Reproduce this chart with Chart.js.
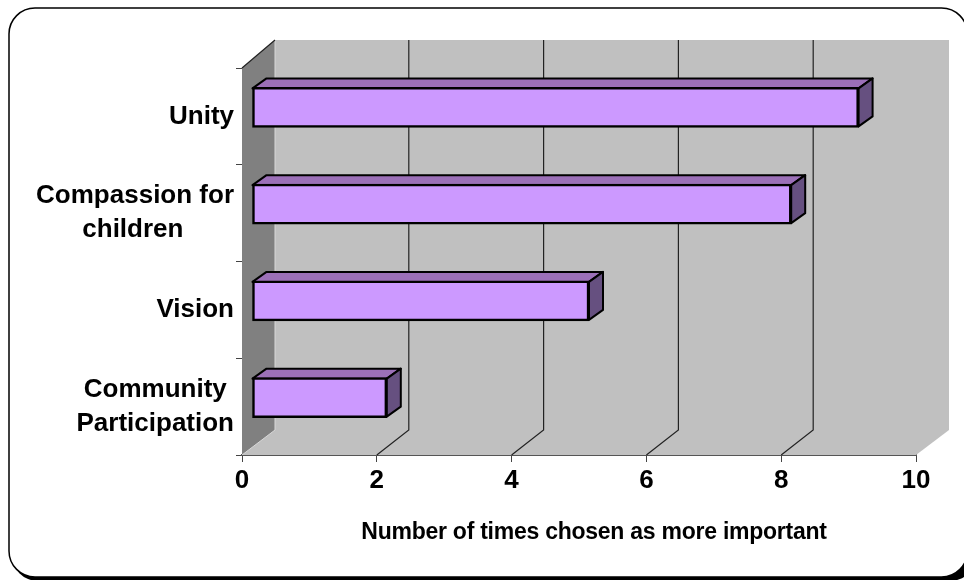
<!DOCTYPE html>
<html>
<head>
<meta charset="utf-8">
<style>
  html, body { margin: 0; padding: 0; background: #fff; }
  #wrap { width: 964px; height: 580px; overflow: hidden; }
</style>
<script src="https://cdn.jsdelivr.net/npm/chart.js@4/dist/chart.umd.min.js"></script>
</head>
<body>
<div id="wrap"><canvas id="chart" width="964" height="580"></canvas></div>
<script>
const categories = ['Unity', ['Compassion for', 'children'], 'Vision', ['Community', 'Participation']];
const timesChosen = [9, 8, 5, 2];
const xTicks = [0, 2, 4, 6, 8, 10];
const axisTitle = 'Number of times chosen as more important';

const fontFamily = '"Liberation Sans", Arial, sans-serif';
const faceColor = '#CC99FF';
const topColor = '#9C70B8';
const sideColor = '#665080';

// depth of the box, and where the bars sit inside it
const wallDx = 33, wallDy = 25;
const barDx = 10, barDy = 9;
const barDepthX = 14, barDepthY = 10;

function poly(ctx, pts, fill, stroke, width) {
    ctx.beginPath();
    pts.forEach((p, i) => i ? ctx.lineTo(p[0], p[1]) : ctx.moveTo(p[0], p[1]));
    ctx.closePath();
    if (fill) { ctx.fillStyle = fill; ctx.fill(); }
    if (stroke) { ctx.strokeStyle = stroke; ctx.lineWidth = width; ctx.stroke(); }
}

// two line labels are centred on each other, the library only right aligns them
function centreLines(lines, ctx) {
    if (!Array.isArray(lines)) return lines;
    ctx.save();
    ctx.font = 'bold 26px ' + fontFamily;
    const widest = Math.max(...lines.map(l => ctx.measureText(l).width));
    const space = ctx.measureText('\u00a0').width;
    const padded = lines.map(l => l + '\u00a0'.repeat(Math.round((widest - ctx.measureText(l).width) / 2 / space)));
    ctx.restore();
    return padded;
}

// rounded card behind everything
const cardPlugin = {
    id: 'card',
    beforeDraw(chart) {
        const ctx = chart.ctx;
        ctx.save();
        ctx.fillStyle = '#000';
        ctx.beginPath();
        ctx.roundRect(12, 300, 964, 281, 26);
        ctx.fill();
        ctx.fillStyle = '#fff';
        ctx.strokeStyle = '#000';
        ctx.lineWidth = 1.5;
        ctx.beginPath();
        ctx.roundRect(9, 8, 958.5, 569, 26);
        ctx.fill();
        ctx.stroke();
        ctx.restore();
    }
};

// side wall, back wall and floor with the value grid lines
const wallPlugin = {
    id: 'walls',
    beforeDatasetsDraw(chart) {
        const ctx = chart.ctx;
        const { left, right, top, bottom } = chart.chartArea;
        const xScale = chart.scales.x;
        ctx.save();
        poly(ctx, [[left + wallDx, top - wallDy - 3], [right + wallDx, top - wallDy - 3],
            [right + wallDx, bottom - wallDy], [right, bottom], [left, bottom]], '#C0C0C0');
        poly(ctx, [[left, top], [left + wallDx, top - wallDy - 3],
            [left + wallDx, bottom - wallDy], [left, bottom]], '#808080');
        ctx.strokeStyle = '#D8D8D8';
        ctx.lineWidth = 1;
        ctx.beginPath();
        ctx.moveTo(left, bottom);
        ctx.lineTo(left + wallDx, bottom - wallDy);
        ctx.lineTo(left + wallDx, top - wallDy - 3);
        ctx.stroke();
        ctx.strokeStyle = '#222';
        ctx.lineWidth = 1.2;
        ctx.beginPath();
        ctx.moveTo(left, top);
        ctx.lineTo(left + wallDx, top - wallDy - 3);
        xTicks.slice(1, -1).forEach(v => {
            const x = xScale.getPixelForValue(v);
            ctx.moveTo(x, bottom);
            ctx.lineTo(x + wallDx - 1, bottom - wallDy);
            ctx.lineTo(x + wallDx - 1, top - wallDy - 3);
        });
        ctx.stroke();
        ctx.restore();
    }
};

// the library draws the front of each bar, this adds the top and the end
const boxPlugin = {
    id: 'boxes',
    beforeDatasetDraw(chart, args) {
        const ctx = chart.ctx;
        ctx.save();
        ctx.translate(barDx, -barDy);
        ctx.lineJoin = 'round';
        args.meta.data.forEach(bar => {
            const t = bar.y - bar.height / 2 + 1, b = bar.y + bar.height / 2 - 1;
            poly(ctx, [[bar.base, t], [bar.base + barDepthX, t - barDepthY],
                [bar.x + barDepthX, t - barDepthY], [bar.x, t]], topColor, '#000', 2);
            poly(ctx, [[bar.x, t], [bar.x + barDepthX, t - barDepthY],
                [bar.x + barDepthX, b - barDepthY], [bar.x, b]], sideColor, '#000', 2);
        });
    },
    afterDatasetDraw(chart) {
        chart.ctx.restore();
    }
};

// axis title sits right of the axis centre in the original
const titlePlugin = {
    id: 'axisTitle',
    afterDraw(chart) {
        const ctx = chart.ctx;
        ctx.save();
        ctx.font = 'bold 23px ' + fontFamily;
        ctx.letterSpacing = '-0.25px';
        ctx.fillStyle = '#000';
        ctx.textAlign = 'center';
        ctx.textBaseline = 'middle';
        ctx.fillText(axisTitle, 594, 533);
        ctx.restore();
    }
};

new Chart(document.getElementById('chart'), {
    type: 'bar',
    data: {
        labels: categories,
        datasets: [{
            data: timesChosen,
            backgroundColor: faceColor,
            borderColor: '#000',
            borderWidth: 2.5,
            borderSkipped: false,
            barThickness: 40
        }]
    },
    plugins: [cardPlugin, wallPlugin, boxPlugin, titlePlugin],
    options: {
        indexAxis: 'y',
        responsive: false,
        animation: false,
        layout: { padding: { top: 68, right: 48, left: 0, bottom: 0 } },
        plugins: { legend: { display: false }, tooltip: { enabled: false } },
        scales: {
            x: {
                min: 0,
                max: 10,
                afterBuildTicks(axis) { axis.ticks = xTicks.map(v => ({ value: v })); },
                afterFit(axis) { axis.height = 125; },
                grid: { drawOnChartArea: false, tickLength: 7, color: '#444', tickColor: '#444' },
                border: { color: '#555', width: 2 },
                ticks: { color: '#000', padding: 3, maxRotation: 0, font: { family: fontFamily, size: 26, weight: 'bold' } }
            },
            y: {
                afterFit(axis) { axis.width = 242; },
                grid: { drawOnChartArea: false, tickLength: 6, color: '#444', tickColor: '#444' },
                border: { color: '#444', width: 1 },
                ticks: {
                    color: '#000',
                    padding: 2,
                    autoSkip: false,
                    font: { family: fontFamily, size: 26, weight: 'bold', lineHeight: 1.3 },
                    callback(value) { return centreLines(this.getLabelForValue(value), this.ctx); }
                }
            }
        }
    }
});
</script>
</body>
</html>
